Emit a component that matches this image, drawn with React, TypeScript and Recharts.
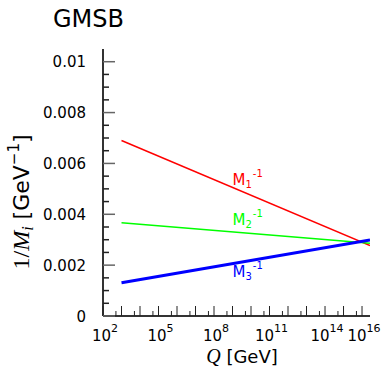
import { Line, LineChart, ReferenceDot, XAxis, YAxis } from "recharts";

// 1/M_i running with the scale Q (GMSB)
const qGeV = [1e3, 2.7e16];
const invM1 = [0.0069, 0.00277];
const invM2 = [0.00367, 0.00286];
const invM3 = [0.00131, 0.00299];

const seriesKeys = ["m1", "m2", "m3"];
const seriesIndex = ["1", "2", "3"];
const seriesColors = ["#ff0000", "#00ff00", "#0000ff"];
const seriesWidths = [1.5, 1.5, 3];
const labelQ = [1e9, 1e9, 1e9];
const labelVal = [0.00516, 0.00358, 0.00154];

const xTicks = [
  1e2, 5e2, 1e3, 5e3, 1e4, 5e4, 1e5, 5e5, 1e6, 5e6, 1e7, 5e7, 1e8, 5e8, 1e9,
  5e9, 1e10, 5e10, 1e11, 5e11, 1e12, 5e12, 1e13, 5e13, 1e14, 5e14, 1e15, 5e15,
  1e16,
];
const xLabelExps = [2, 5, 8, 11, 14, 16];
const yTicks = [
  0, 0.0005, 0.001, 0.0015, 0.002, 0.0025, 0.003, 0.0035, 0.004, 0.0045, 0.005,
  0.0055, 0.006, 0.0065, 0.007, 0.0075, 0.008, 0.0085, 0.009, 0.0095, 0.01,
];
const yMajor = [0, 0.002, 0.004, 0.006, 0.008, 0.01];
const yTickLabels = ["0", "0.002", "0.004", "0.006", "0.008", "0.01"];

const data = qGeV.map((q, i) => ({
  q,
  m1: invM1[i],
  m2: invM2[i],
  m3: invM3[i],
}));

const SANS = "DejaVu Sans";
const SERIF = "Liberation Serif";
const X_DOMAIN = [100, 2.7e16];
const Y_DOMAIN = [0, 0.0105];

function XTick({ x, y, payload }: any) {
  const e = Math.log10(payload.value);
  const exp = Math.round(e);
  const decade = Math.abs(e - exp) < 1e-6;
  const show = decade && xLabelExps.includes(exp);
  return (
    <g>
      <line x1={x} x2={x} y1={y} y2={y - (decade ? 10 : 5)} stroke="#222" />
      {show && (
        <text
          x={x + 2}
          y={y + 25}
          textAnchor="middle"
          fontFamily={SANS}
          fontSize={15}
          fill="#000"
        >
          10
          <tspan fontSize={11} dy={-9}>
            {exp}
          </tspan>
        </text>
      )}
    </g>
  );
}

function YTick({ x, y, payload }: any) {
  const idx = yMajor.findIndex((m) => Math.abs(m - payload.value) < 1e-9);
  return (
    <g>
      <line
        x1={x}
        x2={x + (idx >= 0 ? 12 : 6)}
        y1={y}
        y2={y}
        stroke={idx >= 0 ? "#666" : "#222"}
        strokeWidth={1.5}
      />
      {idx >= 0 && (
        <text
          x={x - 17}
          y={y + 5.5}
          textAnchor="end"
          fontFamily={SANS}
          fontSize={15}
          fill="#000"
        >
          {yTickLabels[idx]}
        </text>
      )}
    </g>
  );
}

function SeriesLabel({ cx, cy, i }: any) {
  return (
    <text x={cx} y={cy} fill={seriesColors[i]} fontFamily={SANS} fontSize={15}>
      M
      <tspan fontSize={10} dy={3}>
        {seriesIndex[i]}
      </tspan>
      <tspan fontSize={10} dx={1} dy={-11}>
        -1
      </tspan>
    </text>
  );
}

export default function App() {
  return (
    <div style={{ position: "absolute", left: 0, top: 0, width: 384, height: 368 }}>
      <LineChart
        width={384}
        height={368}
        data={data}
        margin={{ top: 49, right: 14, bottom: 0, left: 0 }}
      >
        <XAxis
          dataKey="q"
          type="number"
          scale="log"
          domain={X_DOMAIN}
          allowDataOverflow
          ticks={xTicks}
          interval={0}
          tick={<XTick />}
          tickLine={false}
          tickSize={0}
          tickMargin={0}
          height={52}
          axisLine={{ stroke: "#333", strokeWidth: 2 }}
        />
        <XAxis
          xAxisId="top"
          orientation="top"
          dataKey="q"
          type="number"
          scale="log"
          domain={X_DOMAIN}
          allowDataOverflow
          tick={false}
          tickLine={false}
          height={0}
          axisLine={{ stroke: "#333", strokeWidth: 1.5 }}
        />
        <YAxis
          type="number"
          domain={Y_DOMAIN}
          allowDataOverflow
          ticks={yTicks}
          interval={0}
          tick={<YTick />}
          tickLine={false}
          tickSize={0}
          tickMargin={0}
          width={103}
          axisLine={{ stroke: "#333", strokeWidth: 2 }}
        />
        <YAxis
          yAxisId="right"
          orientation="right"
          type="number"
          domain={Y_DOMAIN}
          tick={false}
          tickLine={false}
          width={0}
          axisLine={{ stroke: "#888", strokeWidth: 2 }}
        />
        {seriesKeys.map((k, i) => (
          <Line
            key={k}
            dataKey={k}
            stroke={seriesColors[i]}
            strokeWidth={seriesWidths[i]}
            dot={false}
            isAnimationActive={false}
          />
        ))}
        {seriesKeys.map((k, i) => (
          <ReferenceDot
            key={"lbl-" + k}
            x={labelQ[i]}
            y={labelVal[i]}
            r={0}
            shape={(p: any) => <SeriesLabel cx={p.cx} cy={p.cy} i={i} />}
          />
        ))}
      </LineChart>
      <svg
        width={384}
        height={368}
        style={{ position: "absolute", left: 0, top: 0, pointerEvents: "none" }}
      >
        <text x={53} y={27} fontFamily={SANS} fontSize={24} fill="#000">
          GMSB
        </text>
        <text
          transform="translate(29,202) rotate(-90)"
          textAnchor="middle"
          fontFamily={SANS}
          fontSize={22}
          fill="#000"
        >
          <tspan fontFamily={SERIF} fontSize={24}>
            1/
          </tspan>
          <tspan fontFamily={SERIF} fontStyle="italic" fontSize={24}>
            M
          </tspan>
          <tspan fontFamily={SERIF} fontStyle="italic" fontSize={16} dy={4}>
            i
          </tspan>
          <tspan dy={-4}> [GeV</tspan>
          <tspan fontSize={15} dy={-10}>
            −1
          </tspan>
          <tspan dy={10}>]</tspan>
        </text>
        <text
          x={242}
          y={363}
          textAnchor="middle"
          fontFamily={SANS}
          fontSize={18}
          fill="#000"
        >
          <tspan fontFamily={SERIF} fontStyle="italic" fontSize={20}>
            Q
          </tspan>
          <tspan> [GeV]</tspan>
        </text>
      </svg>
    </div>
  );
}
